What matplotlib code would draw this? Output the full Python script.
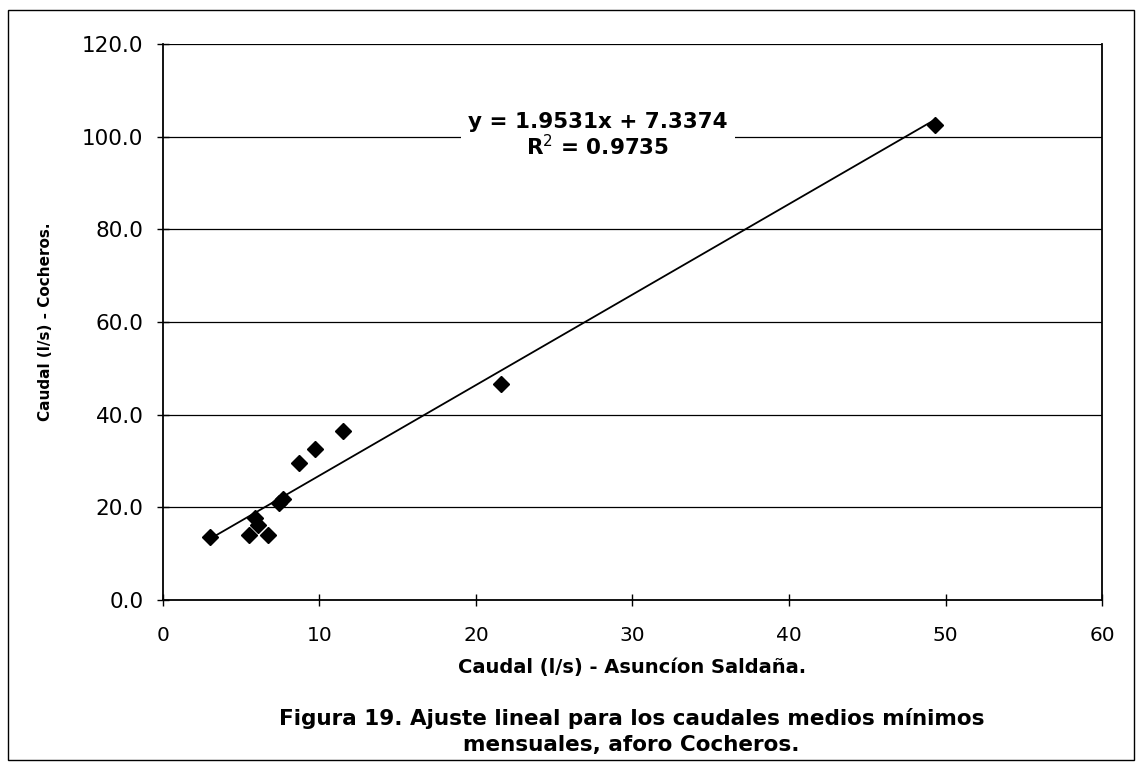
import numpy as np
import matplotlib
matplotlib.use("Agg")
import matplotlib.pyplot as plt
from matplotlib.patches import Rectangle

# caudales minimos mensuales (l/s)
x_asuncion = [3.0, 5.5, 6.7, 5.9, 6.1, 7.4, 7.7, 8.7, 9.7, 11.5, 21.6, 49.3]
y_cocheros = [13.7, 14.0, 14.0, 17.8, 16.3, 21.0, 21.7, 29.5, 32.5, 36.5, 46.7, 102.5]

slope = 1.9531
intercept = 7.3374
r2 = 0.9735

x_ticks = [0, 10, 20, 30, 40, 50, 60]
y_ticks = [0, 20, 40, 60, 80, 100, 120]

fig = plt.figure(figsize=(11.42, 7.67), dpi=100)
fig.patch.set_facecolor("white")

# outer frame of the figure
fig.patches.append(Rectangle((0.007, 0.009), 0.986, 0.978, transform=fig.transFigure,
                             fill=False, edgecolor="black", linewidth=1.0))

ax = fig.add_axes([0.1427, 0.2177, 0.8223, 0.7249])
ax.set_xlim(0, 60)
ax.set_ylim(0, 120)

for v in y_ticks[1:]:
    ax.axhline(v, color="black", linewidth=0.9, zorder=1)

xs = np.array([min(x_asuncion), max(x_asuncion)])
ax.plot(xs, slope * xs + intercept, color="black", linewidth=1.3, zorder=2)
ax.plot(x_asuncion, y_cocheros, linestyle="none", marker="D", markersize=8,
        color="black", zorder=3)

for s in ["left", "bottom", "right"]:
    ax.spines[s].set_linewidth(1.3)
ax.spines["top"].set_visible(False)

ax.set_xticks(x_ticks)
ax.set_yticks(y_ticks)
ax.set_yticklabels(["%.1f" % v for v in y_ticks], family="DejaVu Sans", fontsize=15.5)
ax.set_xticklabels([str(v) for v in x_ticks], family="DejaVu Sans", fontsize=14.5)
ax.tick_params(axis="y", direction="inout", length=8, width=1, pad=10)
ax.tick_params(axis="x", direction="inout", length=8, width=1, pad=15)

ax.set_xlabel("Caudal (l/s) - Asuncíon Saldaña.", family="DejaVu Sans",
              fontweight="bold", fontsize=14, labelpad=9)
ax.set_ylabel("Caudal (l/s) - Cocheros.", family="DejaVu Sans",
              fontweight="bold", fontsize=11, labelpad=21)

ax.text(27.8, 100.2, "y = %.4fx + %.4f\nR$^2$ = %.4f" % (slope, intercept, r2),
        ha="center", va="center", family="DejaVu Sans", fontweight="bold",
        fontsize=15.5, linespacing=1.1, zorder=4,
        bbox=dict(facecolor="white", edgecolor="none", pad=5))

fig.text(0.553, 0.077, "Figura 19. Ajuste lineal para los caudales medios mínimos\nmensuales, aforo Cocheros.",
         ha="center", va="top", family="DejaVu Sans",
         fontweight="bold", fontsize=15.5, linespacing=1.35)

fig.savefig("out.png", dpi=100, facecolor="white")
